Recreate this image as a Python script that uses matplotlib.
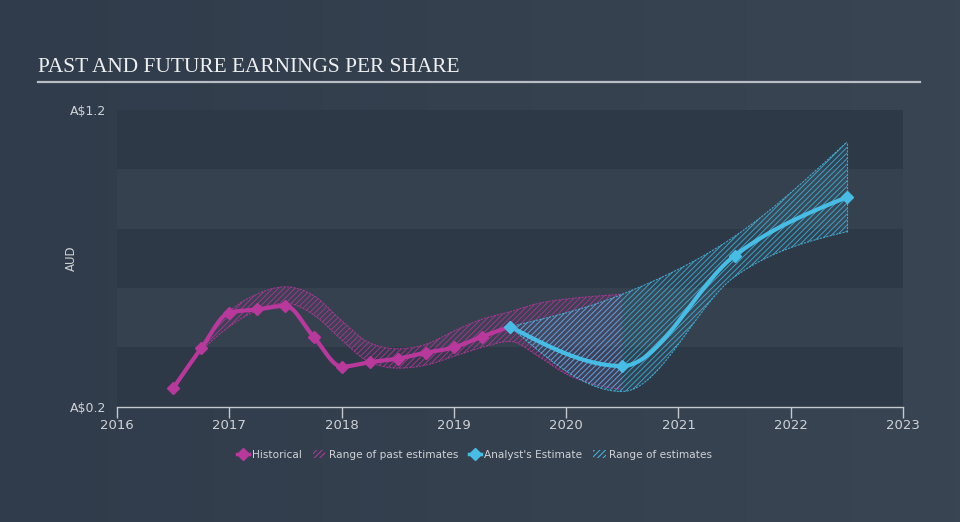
import matplotlib as mpl
import matplotlib.pyplot as plt
import numpy as np
from matplotlib.lines import Line2D
from matplotlib.patches import Patch

# values
hist_x = [2016.5, 2016.75, 2017.0, 2017.25, 2017.5, 2017.75, 2018.0,
          2018.25, 2018.5, 2018.75, 2019.0, 2019.25, 2019.5]
hist_eps = [0.262, 0.397, 0.517, 0.528, 0.540, 0.436, 0.335,
            0.350, 0.362, 0.382, 0.400, 0.436, 0.470]

past_x = [2016.75, 2017.0, 2017.25, 2017.5, 2017.75, 2018.0, 2018.25,
          2018.5, 2018.75, 2019.0, 2019.25, 2019.5, 2019.75, 2020.0, 2020.25, 2020.5]
past_hi = [0.397, 0.52, 0.58, 0.604, 0.575, 0.49, 0.415,
           0.395, 0.41, 0.455, 0.495, 0.52, 0.548, 0.563, 0.572, 0.579]
past_lo = [0.390, 0.47, 0.525, 0.549, 0.51, 0.425, 0.35,
           0.33, 0.34, 0.37, 0.40, 0.42, 0.37, 0.31, 0.275, 0.258]

fc_x = [2019.5, 2020.5, 2021.5, 2022.5]
fc_eps = [0.470, 0.337, 0.709, 0.906]
fc_hi = [0.470, 0.579, 0.774, 1.092]
fc_lo = [0.470, 0.251, 0.638, 0.790]

years = [2016, 2017, 2018, 2019, 2020, 2021, 2022, 2023]

MAG = '#b8389c'
BLUE = '#47bde6'
TXT = '#cfd3d8'

mpl.rcParams['hatch.linewidth'] = 0.7


def monotone(x, y, n=30):
    # d3 curveMonotoneX style smoothing, for drawing only
    x = np.asarray(x, float)
    y = np.asarray(y, float)
    h = np.diff(x)
    s = np.diff(y) / h
    m = np.zeros(len(x))
    for k in range(1, len(x) - 1):
        p = (s[k - 1] * h[k] + s[k] * h[k - 1]) / (h[k - 1] + h[k])
        m[k] = (np.sign(s[k - 1]) + np.sign(s[k])) * min(abs(s[k - 1]), abs(s[k]), 0.5 * abs(p))
    if len(x) > 2:
        m[0] = (3 * s[0] - m[1]) / 2
        m[-1] = (3 * s[-1] - m[-2]) / 2
    else:
        m[:] = s[0]
    xs, ys = [], []
    for k in range(len(x) - 1):
        t = np.linspace(0, 1, n, endpoint=(k == len(x) - 2))
        h00 = 2 * t**3 - 3 * t**2 + 1
        h10 = t**3 - 2 * t**2 + t
        h01 = -2 * t**3 + 3 * t**2
        h11 = t**3 - t**2
        xs.append(x[k] + t * h[k])
        ys.append(h00 * y[k] + h10 * h[k] * m[k] + h01 * y[k + 1] + h11 * h[k] * m[k + 1])
    return np.concatenate(xs), np.concatenate(ys)


fig = plt.figure(figsize=(9.6, 5.22), dpi=100)
fig.patch.set_facecolor('#343f4e')

# subtle background gradient
bg = fig.add_axes([0, 0, 1, 1], zorder=-10)
grad = np.linspace(0, 1, 256).reshape(1, -1)
cmap = mpl.colors.LinearSegmentedColormap.from_list('bg', ['#303c4b', '#3a4553'])
bg.imshow(grad, aspect='auto', cmap=cmap, extent=[0, 1, 0, 1])
bg.axis('off')

ax = fig.add_axes([0.1219, 0.2209, 0.8188, 0.5684])
ax.set_facecolor('none')
ax.set_xlim(2016, 2023)
ax.set_ylim(0.2, 1.2)

# horizontal bands
for i, lo in enumerate(np.arange(0.2, 1.2, 0.2)):
    ax.axhspan(lo, lo + 0.2, color='#2e3948' if i % 2 == 0 else '#35414f', lw=0, zorder=0)

# range of past estimates
px, phi = monotone(past_x, past_hi)
_, plo = monotone(past_x, past_lo)
ax.fill_between(px, plo, phi, facecolor=MAG, alpha=0.08, lw=0, zorder=1)
ax.fill_between(px, plo, phi, facecolor='none', edgecolor=MAG, hatch='//////', lw=0, alpha=0.75, zorder=1)
ax.plot(px, phi, color=MAG, lw=0.8, ls=(0, (2, 1)), alpha=0.8, zorder=1)
ax.plot(px, plo, color=MAG, lw=0.8, ls=(0, (2, 1)), alpha=0.8, zorder=1)

# range of estimates
fx, fhi = monotone(fc_x, fc_hi)
_, flo = monotone(fc_x, fc_lo)
ax.fill_between(fx, flo, fhi, facecolor=BLUE, alpha=0.08, lw=0, zorder=2)
ax.fill_between(fx, flo, fhi, facecolor='none', edgecolor=BLUE, hatch='//////', lw=0, alpha=0.75, zorder=2)
ax.plot(fx, fhi, color=BLUE, lw=0.8, ls=(0, (2, 1)), alpha=0.8, zorder=2)
ax.plot(fx, flo, color=BLUE, lw=0.8, ls=(0, (2, 1)), alpha=0.8, zorder=2)
ax.plot([fc_x[-1], fc_x[-1]], [fc_lo[-1], fc_hi[-1]], color=BLUE, lw=0.8, ls=(0, (2, 1)), alpha=0.8, zorder=2)

# historical line
hx, hy = monotone(hist_x, hist_eps)
ax.plot(hx, hy, color=MAG, lw=3, solid_capstyle='round', zorder=4)
ax.plot(hist_x, hist_eps, 'D', color=MAG, ms=6, zorder=5)

# analyst estimate line
ex, ey = monotone(fc_x, fc_eps)
ax.plot(ex, ey, color=BLUE, lw=3, solid_capstyle='round', zorder=4)
ax.plot(fc_x, fc_eps, 'D', color=BLUE, ms=6, zorder=5)

# axes styling
for sp in ['top', 'right', 'left']:
    ax.spines[sp].set_visible(False)
ax.spines['bottom'].set_color('#c4c9cf')
ax.spines['bottom'].set_linewidth(1)
ax.set_xticks(years)
ax.set_xticklabels([str(y) for y in years])
ax.tick_params(axis='x', colors='#c4c9cf', length=8, width=1, pad=1, labelsize=9.5, labelcolor=TXT)
ax.set_yticks([0.2, 1.2])
ax.set_yticklabels([r'A\$0.2', r'A\$1.2'])
ax.tick_params(axis='y', length=0, pad=8, labelsize=9, labelcolor=TXT)
ax.set_ylabel('AUD', color=TXT, fontsize=8.5)
ax.yaxis.set_label_coords(-39 / 786, 0.5)

# title and underline
fig.text(38 / 960, 1 - 67 / 522, 'PAST AND FUTURE EARNINGS PER SHARE', family='Liberation Serif',
         fontsize=15.4, color='#eef0f2', va='center', ha='left')
fig.add_artist(Line2D([38 / 960, 920 / 960], [1 - 82 / 522, 1 - 82 / 522], color='#b9bec5', lw=1.6))

# legend
handles = [
    Line2D([], [], color=MAG, lw=2.5, marker='D', ms=6),
    Patch(facecolor='none', edgecolor=MAG, hatch='//////', lw=0),
    Line2D([], [], color=BLUE, lw=2.5, marker='D', ms=6),
    Patch(facecolor='none', edgecolor=BLUE, hatch='//////', lw=0),
]
labels = ['Historical', 'Range of past estimates', "Analyst's Estimate", 'Range of estimates']
fig.legend(handles, labels, loc='center', bbox_to_anchor=(0.494, 1 - 455 / 522), ncol=4, frameon=False,
           fontsize=7.6, labelcolor=TXT, handlelength=1.2, handleheight=0.8, handletextpad=0.3,
           columnspacing=1.0)

fig.savefig('out.png', dpi=100, facecolor=fig.get_facecolor())
